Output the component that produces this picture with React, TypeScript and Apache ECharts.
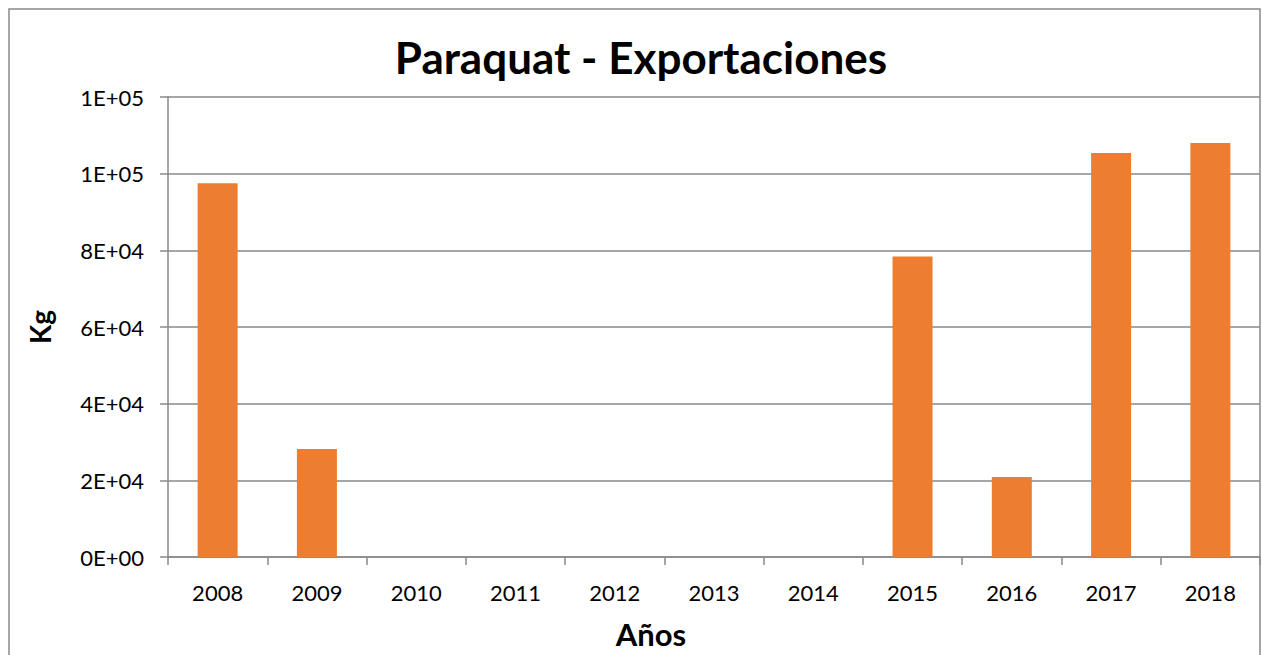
import React, { useEffect, useRef } from "react";
import * as echarts from "echarts";

const categories = ["2008", "2009", "2010", "2011", "2012", "2013", "2014", "2015", "2016", "2017", "2018"];
const exportKg = [97500, 28150, 0, 0, 0, 0, 0, 78400, 20850, 105400, 108000];
const titleText = "Paraquat - Exportaciones";
const xName = "Años";
const yName = "Kg";

function sci(v: number): string {
  if (v === 0) return "0E+00";
  const s = v.toExponential(0); // e.g. "1e+5"
  const [m, e] = s.split("e");
  const exp = parseInt(e, 10);
  const sign = exp < 0 ? "-" : "+";
  const abs = Math.abs(exp).toString().padStart(2, "0");
  return `${m}E${sign}${abs}`;
}

export default function App() {
  const ref = useRef<HTMLDivElement>(null);
  useEffect(() => {
    document.body.style.margin = "0";
    const chart = echarts.init(ref.current!, undefined, { renderer: "svg" });
    const font = "Lato";
    chart.setOption({
      animation: false,
      backgroundColor: "#ffffff",
      title: {
        text: titleText,
        left: 636,
        textAlign: "center",
        top: 30,
        textStyle: { fontFamily: font, fontWeight: "bold", fontSize: 44, color: "#000000" },
      },
      graphic: [
        {
          type: "rect",
          shape: { x: 9, y: 9, width: 1251, height: 700 },
          style: { fill: "none", stroke: "#898989", lineWidth: 1.5 },
          silent: true,
        },
      ],
      grid: { left: 168, right: 2, top: 97, bottom: 98, containLabel: false },
      xAxis: {
        type: "category",
        data: categories,
        name: xName,
        nameLocation: "middle",
        nameGap: 61,
        nameTextStyle: { fontFamily: font, fontWeight: "bold", fontSize: 31, color: "#000000", padding: [0, 126, 0, 0] },
        axisLine: { lineStyle: { color: "#898989", width: 1.5 } },
        axisTick: { show: true, alignWithLabel: false, length: 8, lineStyle: { color: "#898989", width: 1.5 } },
        axisLabel: { fontFamily: font, fontSize: 22, color: "#000000", margin: 24, interval: 0 },
      },
      yAxis: {
        type: "value",
        min: 0,
        max: 120000,
        interval: 20000,
        name: yName,
        nameLocation: "middle",
        nameGap: 114,
        nameRotate: 90,
        nameTextStyle: { fontFamily: font, fontWeight: "bold", fontSize: 28, color: "#000000" },
        axisLine: { show: true, lineStyle: { color: "#898989", width: 1.5 } },
        axisTick: { show: true, length: 8, lineStyle: { color: "#898989", width: 1.5 } },
        axisLabel: { fontFamily: font, fontSize: 22, color: "#000000", margin: 24, formatter: (v: number) => sci(v) },
        splitLine: { show: true, lineStyle: { color: "#898989", width: 1.5 } },
      },
      series: [
        {
          type: "bar",
          data: exportKg,
          barWidth: 40,
          itemStyle: { color: "#ED7D31" },
        },
      ],
    });
    return () => chart.dispose();
  }, []);
  return <div ref={ref} style={{ position: "absolute", left: 0, top: 0, width: 1262, height: 655 }} />;
}
